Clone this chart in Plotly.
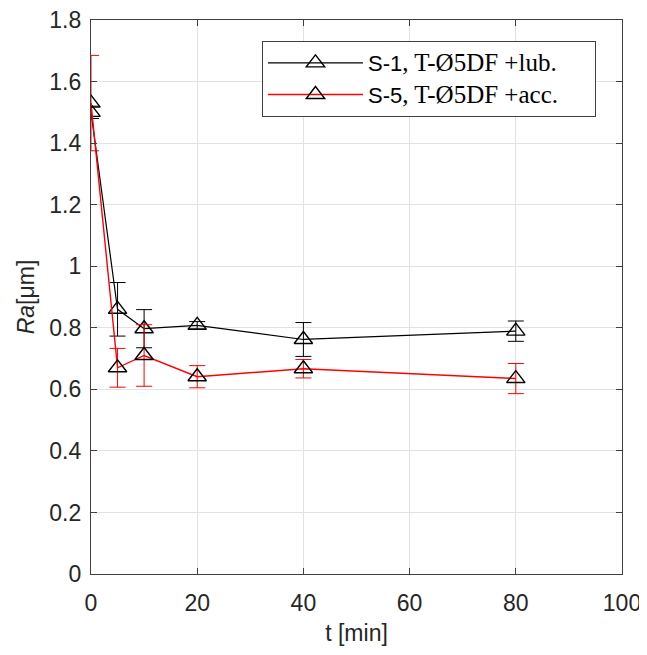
import plotly.graph_objects as go

t_min = [0, 5, 10, 20, 40, 80]
s1_ra = [1.50, 0.86, 0.797, 0.808, 0.762, 0.789]
s1_err = [0.02, 0.087, 0.062, 0.012, 0.055, 0.033]
s5_ra = [1.53, 0.67, 0.71, 0.641, 0.667, 0.635]
s5_err = [0.155, 0.063, 0.10, 0.036, 0.03, 0.049]

serif = "Liberation Serif, Times New Roman, serif"
sans = "Liberation Sans, Arial, sans-serif"
txt = "#262626"

def legend_name(code, rest):
    return (code + "<span style=\"font-family:" + serif + "; font-size:25px\">"
            + rest + "&nbsp;&nbsp;&nbsp;&nbsp;&nbsp;</span>")

fig = go.Figure()
fig.add_trace(go.Scatter(
    x=t_min, y=s1_ra, mode="lines+markers",
    name=legend_name("S-1", ", T-Ø5DF +lub."),
    line=dict(color="black", width=1.2),
    marker=dict(symbol="triangle-up-open", size=16, color="black", line=dict(width=1.4)),
    error_y=dict(type="data", array=s1_err, color="black", thickness=1, width=8),
))
fig.add_trace(go.Scatter(
    x=t_min, y=s5_ra, mode="lines+markers",
    name=legend_name("S-5", ", T-Ø5DF +acc."),
    line=dict(color="#ff0000", width=1.4),
    marker=dict(symbol="triangle-up-open", size=16, color="black", line=dict(width=1.4, color="black")),
    error_y=dict(type="data", array=s5_err, color="#ff0000", thickness=1, width=8),
))

axis_common = dict(
    showline=True, linecolor="#404040", linewidth=1.3, mirror="ticks",
    ticks="inside", ticklen=6, tickcolor="#404040",
    showgrid=True, gridcolor="#e2e2e2", gridwidth=1, zeroline=False,
    tickfont=dict(family=sans, size=23, color=txt), automargin=False,
    ticklabeloverflow="allow",
)
fig.update_xaxes(range=[0, 100], dtick=20, **axis_common, ticklabelstandoff=8,
                 title=dict(text="t [min]", font=dict(family=sans, size=23, color=txt), standoff=10))
fig.update_yaxes(range=[0, 1.8], dtick=0.2, **axis_common, ticklabelstandoff=4,
                 title=dict(text="<i>Ra</i>[μm]", font=dict(family=sans, size=23, color=txt), standoff=8))

# page body adds an 8px offset, so the figure is sized to fit the 647x655 window
fig.update_layout(
    width=639, height=647,
    margin=dict(l=83, r=25, t=12, b=81),
    plot_bgcolor="white", paper_bgcolor="white",
    legend=dict(x=0.322, y=0.962, xanchor="left", yanchor="top",
                bgcolor="white", bordercolor="#404040", borderwidth=1,
                font=dict(family=sans, size=22, color="black"),
                itemwidth=95, tracegroupgap=0),
    showlegend=True,
)
fig.write_html("out.html")
